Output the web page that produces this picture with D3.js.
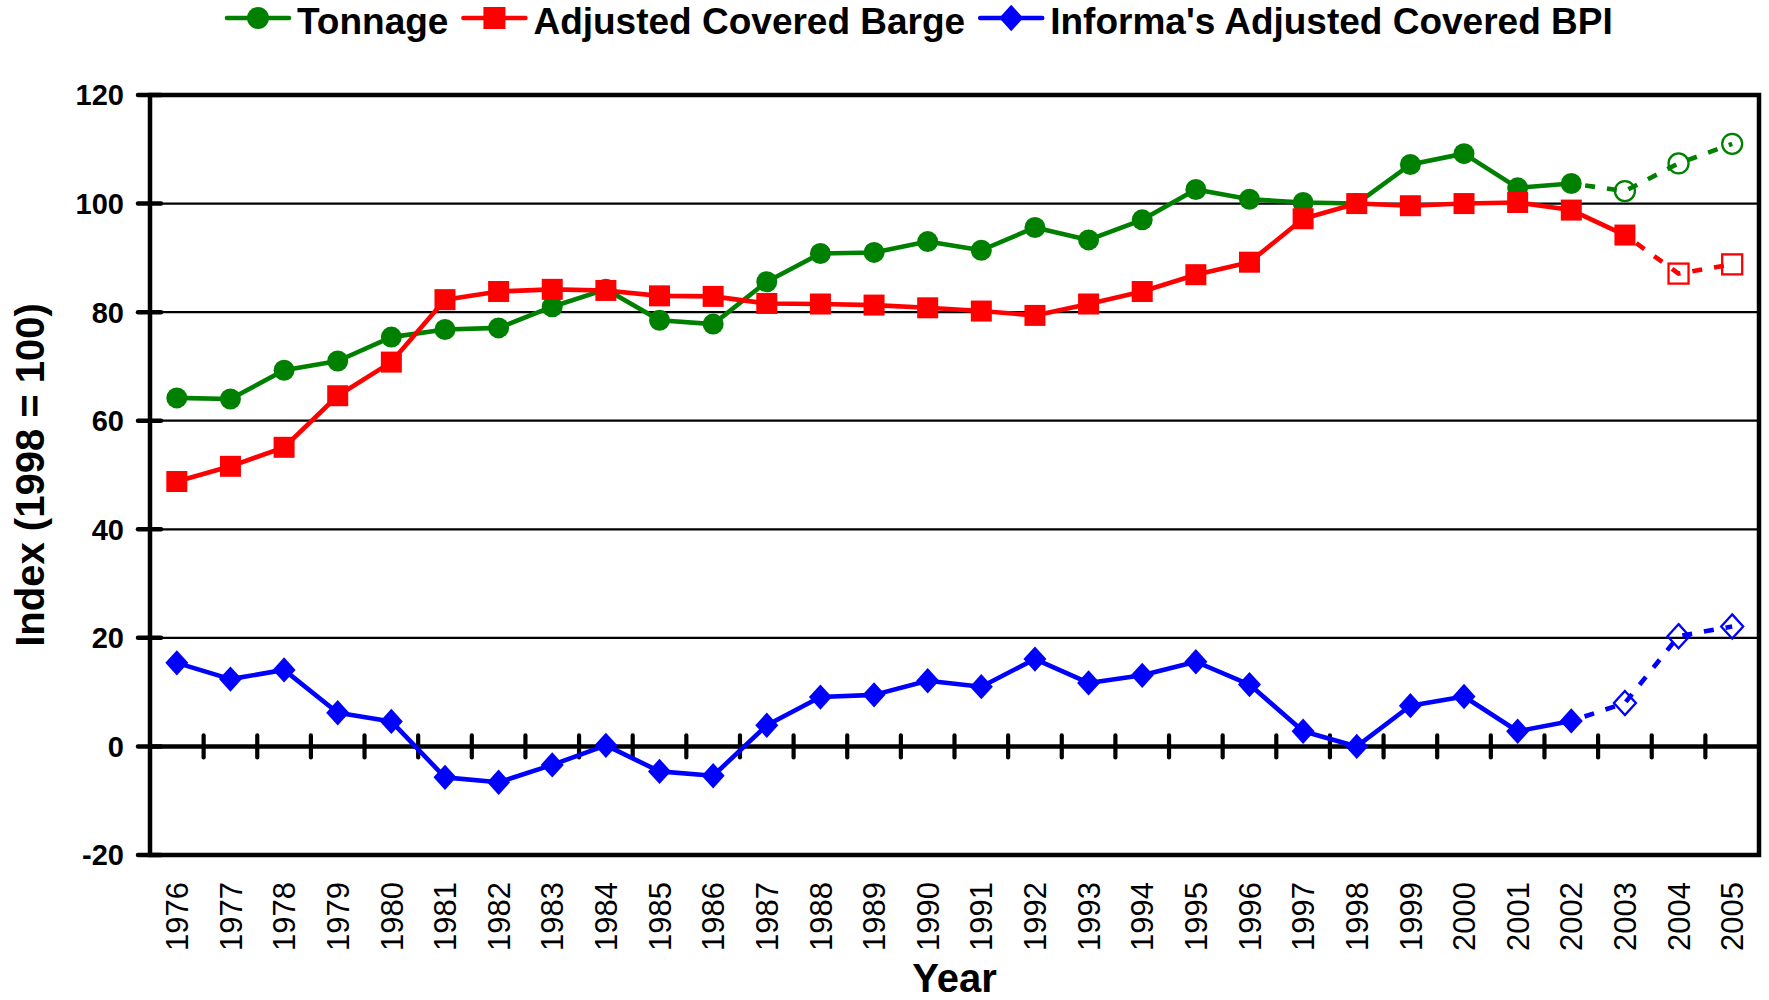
<!DOCTYPE html>
<html>
<head>
<meta charset="utf-8">
<script src="https://cdn.jsdelivr.net/npm/d3@7/dist/d3.min.js"></script>
<style>
body { margin: 0; background: #fff; }
svg { display: block; font-family: "Liberation Sans", Arial, sans-serif; }
</style>
</head>
<body>
<svg width="1769" height="1000"></svg>
<script>
// values
const YEARS = [1976, 1977, 1978, 1979, 1980, 1981, 1982, 1983, 1984, 1985,
    1986, 1987, 1988, 1989, 1990, 1991, 1992, 1993, 1994, 1995,
    1996, 1997, 1998, 1999, 2000, 2001, 2002, 2003, 2004, 2005]
const TONNAGE = [64.2, 64.0, 69.3, 71.0, 75.4, 76.8, 77.1, 81.0, 84.2, 78.5,
    77.8, 85.6, 90.8, 91.0, 93.0, 91.4, 95.6, 93.3, 97.0, 102.6,
    100.8, 100.2, 100.0, 107.2, 109.2, 102.9, 103.7, 102.3, 107.4, 111.0]
const BARGE = [48.8, 51.6, 55.1, 64.6, 70.8, 82.3, 83.8, 84.2, 84.0, 83.0,
    82.9, 81.6, 81.5, 81.3, 80.8, 80.2, 79.4, 81.5, 83.8, 86.9,
    89.2, 97.2, 100.0, 99.6, 100.0, 100.2, 98.8, 94.2, 87.1, 88.8]
const BPI = [15.4, 12.4, 14.1, 6.2, 4.6, -5.7, -6.6, -3.4, 0.2, -4.6,
    -5.4, 3.9, 9.1, 9.5, 12.1, 11.0, 16.1, 11.7, 13.1, 15.6,
    11.4, 2.8, 0.0, 7.5, 9.2, 2.8, 4.7, 8.0, 20.3, 22.1]
// last year with actual (not projected) values
const TONNAGE_LAST = 2002
const BARGE_LAST = 2003
const BPI_LAST = 2002
const Y_TICKS = [-20, 0, 20, 40, 60, 80, 100, 120]

const LEFT = 150, RIGHT = 1759, TOP = 95, BOTTOM = 855;

const x = d3.scaleBand()
    .domain(YEARS)
    .range([LEFT, RIGHT])
    .padding(0)
const y = d3.scaleLinear()
    .domain([-20, 120])
    .range([BOTTOM, TOP])
const cx = d => x(d) + x.bandwidth() / 2

const svg = d3.select('svg')

// gridlines (thin), borders and zero line (thick)
svg.selectAll('.grid')
    .data(Y_TICKS.filter(t => t !== 0 && t !== -20 && t !== 120))
    .enter()
    .append('line')
    .attr('x1', LEFT).attr('x2', RIGHT)
    .attr('y1', d => y(d)).attr('y2', d => y(d))
    .attr('stroke', '#000').attr('stroke-width', 2.2)

// y ticks crossing the axis
svg.selectAll('.ytick')
    .data(Y_TICKS)
    .enter()
    .append('line')
    .attr('x1', LEFT - 12).attr('x2', LEFT + 11)
    .attr('y1', d => y(d)).attr('y2', d => y(d))
    .attr('stroke', '#000').attr('stroke-width', 4.5)
    .attr('stroke-linecap', 'round')

svg.selectAll('.ylabel')
    .data(Y_TICKS)
    .enter()
    .append('text')
    .attr('x', LEFT - 26)
    .attr('y', d => y(d))
    .attr('dy', '0.36em')
    .attr('text-anchor', 'end')
    .attr('font-size', 29)
    .attr('font-weight', 'bold')
    .text(d => d)

// x ticks on the zero line, at category boundaries
svg.selectAll('.xtick')
    .data(YEARS.slice(1))
    .enter()
    .append('line')
    .attr('x1', d => x(d)).attr('x2', d => x(d))
    .attr('y1', y(0) - 11).attr('y2', y(0) + 11)
    .attr('stroke', '#000').attr('stroke-width', 4.2)
    .attr('stroke-linecap', 'round')

svg.append('line')
    .attr('x1', LEFT).attr('x2', RIGHT)
    .attr('y1', y(0)).attr('y2', y(0))
    .attr('stroke', '#000').attr('stroke-width', 4.5)

svg.append('rect')
    .attr('x', LEFT).attr('y', TOP)
    .attr('width', RIGHT - LEFT).attr('height', BOTTOM - TOP)
    .attr('fill', 'none')
    .attr('stroke', '#000').attr('stroke-width', 4.5)

svg.selectAll('.xlabel')
    .data(YEARS)
    .enter()
    .append('text')
    .attr('transform', d => `translate(${cx(d)},882) rotate(-90)`)
    .attr('dy', '0.36em')
    .attr('text-anchor', 'end')
    .attr('font-size', 31)
    .text(d => d)

svg.append('text')
    .attr('x', (LEFT + RIGHT) / 2)
    .attr('y', 992)
    .attr('text-anchor', 'middle')
    .attr('font-size', 40)
    .attr('font-weight', 'bold')
    .text('Year')

svg.append('text')
    .attr('transform', `translate(44,${(TOP + BOTTOM) / 2}) rotate(-90)`)
    .attr('text-anchor', 'middle')
    .attr('font-size', 40)
    .attr('font-weight', 'bold')
    .text('Index (1998 = 100)')

// marker shapes
function marker(g, shape, color, filled, size) {
    let m
    if (shape === 'circle') {
        m = g.append('circle').attr('r', size)
    } else if (shape === 'square') {
        m = g.append('rect').attr('x', -size).attr('y', -size)
            .attr('width', size * 2).attr('height', size * 2)
    } else {
        m = g.append('path').attr('d', `M0,${-size * 1.1}L${size},0L0,${size * 1.1}L${-size},0Z`)
    }
    if (filled) m.attr('fill', color)
    else m.attr('fill', 'none').attr('stroke', color).attr('stroke-width', 2.3)
    return m
}

const SERIES = [
    { name: 'Tonnage', values: TONNAGE, last: TONNAGE_LAST, color: '#008000', shape: 'circle', size: 10.5 },
    { name: 'Adjusted Covered Barge', values: BARGE, last: BARGE_LAST, color: '#ff0000', shape: 'square', size: 10.5 },
    { name: "Informa's Adjusted Covered BPI", values: BPI, last: BPI_LAST, color: '#0000ff', shape: 'diamond', size: 11.5 }
]

const line = d3.line().x(d => cx(d.year)).y(d => y(d.value))

SERIES.forEach(s => {
    const pts = YEARS.map((yr, i) => ({ year: yr, value: s.values[i] }))
    const actual = pts.filter(p => p.year <= s.last)
    const projected = pts.filter(p => p.year >= s.last)
    svg.append('path').datum(actual)
        .attr('d', line).attr('fill', 'none')
        .attr('stroke', s.color).attr('stroke-width', 4.6)
        .attr('stroke-linejoin', 'round')
    svg.append('path').datum(projected)
        .attr('d', line).attr('fill', 'none')
        .attr('stroke', s.color).attr('stroke-width', 4.6)
        .attr('stroke-dasharray', '10,12')
        .attr('stroke-dashoffset', -14)
    pts.forEach(p => {
        const g = svg.append('g').attr('transform', `translate(${cx(p.year)},${y(p.value)})`)
        const filled = p.year <= s.last
        marker(g, s.shape, s.color, filled, filled ? s.size : s.size - 0.5)
    })
})

// legend
let lx = 227
SERIES.forEach(s => {
    const g = svg.append('g').attr('transform', `translate(${lx},18)`)
    g.append('line').attr('x1', 0).attr('x2', 62)
        .attr('stroke', s.color).attr('stroke-width', 4.6)
        .attr('stroke-linecap', 'round')
    const mg = g.append('g').attr('transform', 'translate(31,0)')
    marker(mg, s.shape, s.color, true, s.shape === 'square' ? 11 : s.size + 0.5)
    const t = g.append('text')
        .attr('x', 70).attr('y', 15.5)
        .attr('font-size', 37)
        .attr('font-weight', 'bold')
        .text(s.name)
    lx += 70 + t.node().getComputedTextLength() + 15
})
</script>
</body>
</html>
